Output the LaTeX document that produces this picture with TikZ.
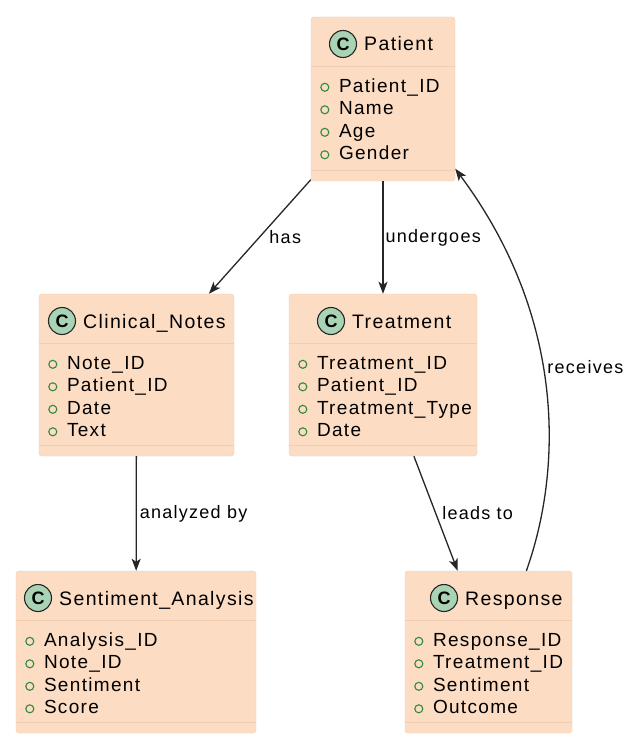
\documentclass[tikz,border=0pt]{standalone}
\usepackage{fontspec}
\setmainfont[LetterSpace=7]{Liberation Sans}
\usetikzlibrary{positioning,calc,arrows.meta}
\definecolor{classfill}{HTML}{FDDCC4}
\definecolor{classline}{HTML}{F3CDB2}
\definecolor{badgefill}{HTML}{A8D3B4}
\definecolor{attrgreen}{HTML}{2E8B3C}

\begin{document}
\begin{tikzpicture}[x=1pt,y=-1pt]
    \tikzstyle{class} = [fill=classfill,draw=classline,rounded corners=3pt,inner sep=0pt]
    \tikzstyle{badge} = [draw=black!85,fill=badgefill,circle,minimum size=27pt,inner sep=0pt,line width=1.1pt,font=\fontsize{18}{18}\selectfont\bfseries]
    \tikzstyle{title} = [anchor=base west,inner sep=0pt,font=\fontsize{19.5}{20}\selectfont]
    \tikzstyle{attr} = [anchor=base west,inner sep=0pt,font=\fontsize{19}{19}\selectfont]
    \tikzstyle{marker} = [draw=attrgreen,line width=1.1pt]
    \tikzstyle{relation} = [draw=black!85,line width=1.3pt,-{Stealth[length=12pt,width=9pt,inset=3pt]}]
    \tikzstyle{linktext} = [inner sep=1pt,font=\fontsize{18}{18}\selectfont]
      \fill[white] (0,0) rectangle (636,735);
      \useasboundingbox (0,0) rectangle (636,735);
      % classes: name / centre / size / badge x / title / attributes
      \foreach \cls/\cx/\cy/\w/\h/\bx/\ttl/\attrs in {
          patient/383/99/144/164/343/Patient/{Patient\_ID,Name,Age,Gender},
          notes/136.5/375/195/162/62/Clinical\_Notes/{Note\_ID,Patient\_ID,Date,Text},
          treatment/383/375/188/162/331/Treatment/{Treatment\_ID,Patient\_ID,Treatment\_Type,Date},
          sentiment/136/652/240/162/38/Sentiment\_Analysis/{Analysis\_ID,Note\_ID,Sentiment,Score},
          response/488.5/652/167/162/444/Response/{Response\_ID,Treatment\_ID,Sentiment,Outcome}} {
        \node[class,minimum width=\w pt,minimum height=\h pt] (\cls) at (\cx,\cy) {};
        \node[badge] (\cls-c) at (\bx,{\cy-\h/2+27}) {C};
        \node[title] (\cls-title) at ({\bx+21},{\cy-\h/2+34}) {\ttl};
        \draw[classline] ($(\cls.north west)+(0,49)$) -- ($(\cls.north east)+(0,49)$);
        \draw[classline] ($(\cls.south west)+(0,-11)$) -- ($(\cls.south east)+(0,-11)$);
        \foreach \a [count=\i] in \attrs {
          \node[attr] (\cls-a\i) at ($(\cls.north west)+(28,{53+22.5*\i})$) {\a};
          \draw[marker] ($(\cls.north west)+(14,{48+22.5*\i})$) circle (4pt);
        }
      }
      \draw[relation] (patient) -- (notes) node[linktext,midway,right=8pt] (hasText) {has};
      \draw[relation] (patient) -- (treatment) node[linktext,midway,right=1pt] (undergoesText) {undergoes};
      \draw[relation] (notes) -- (sentiment) node[linktext,midway,right=2pt] (analyzedText) {analyzed by};
      \draw[relation] (treatment) -- (response) node[linktext,midway,right=5pt] (leadsText) {leads to};
      \draw[relation] (response.65) .. controls +(36,-101) and +(111,149) .. (patient.-44) node[linktext,pos=0.55,right=3pt] (receivesText) {receives};
  \end{tikzpicture}
\end{document}
